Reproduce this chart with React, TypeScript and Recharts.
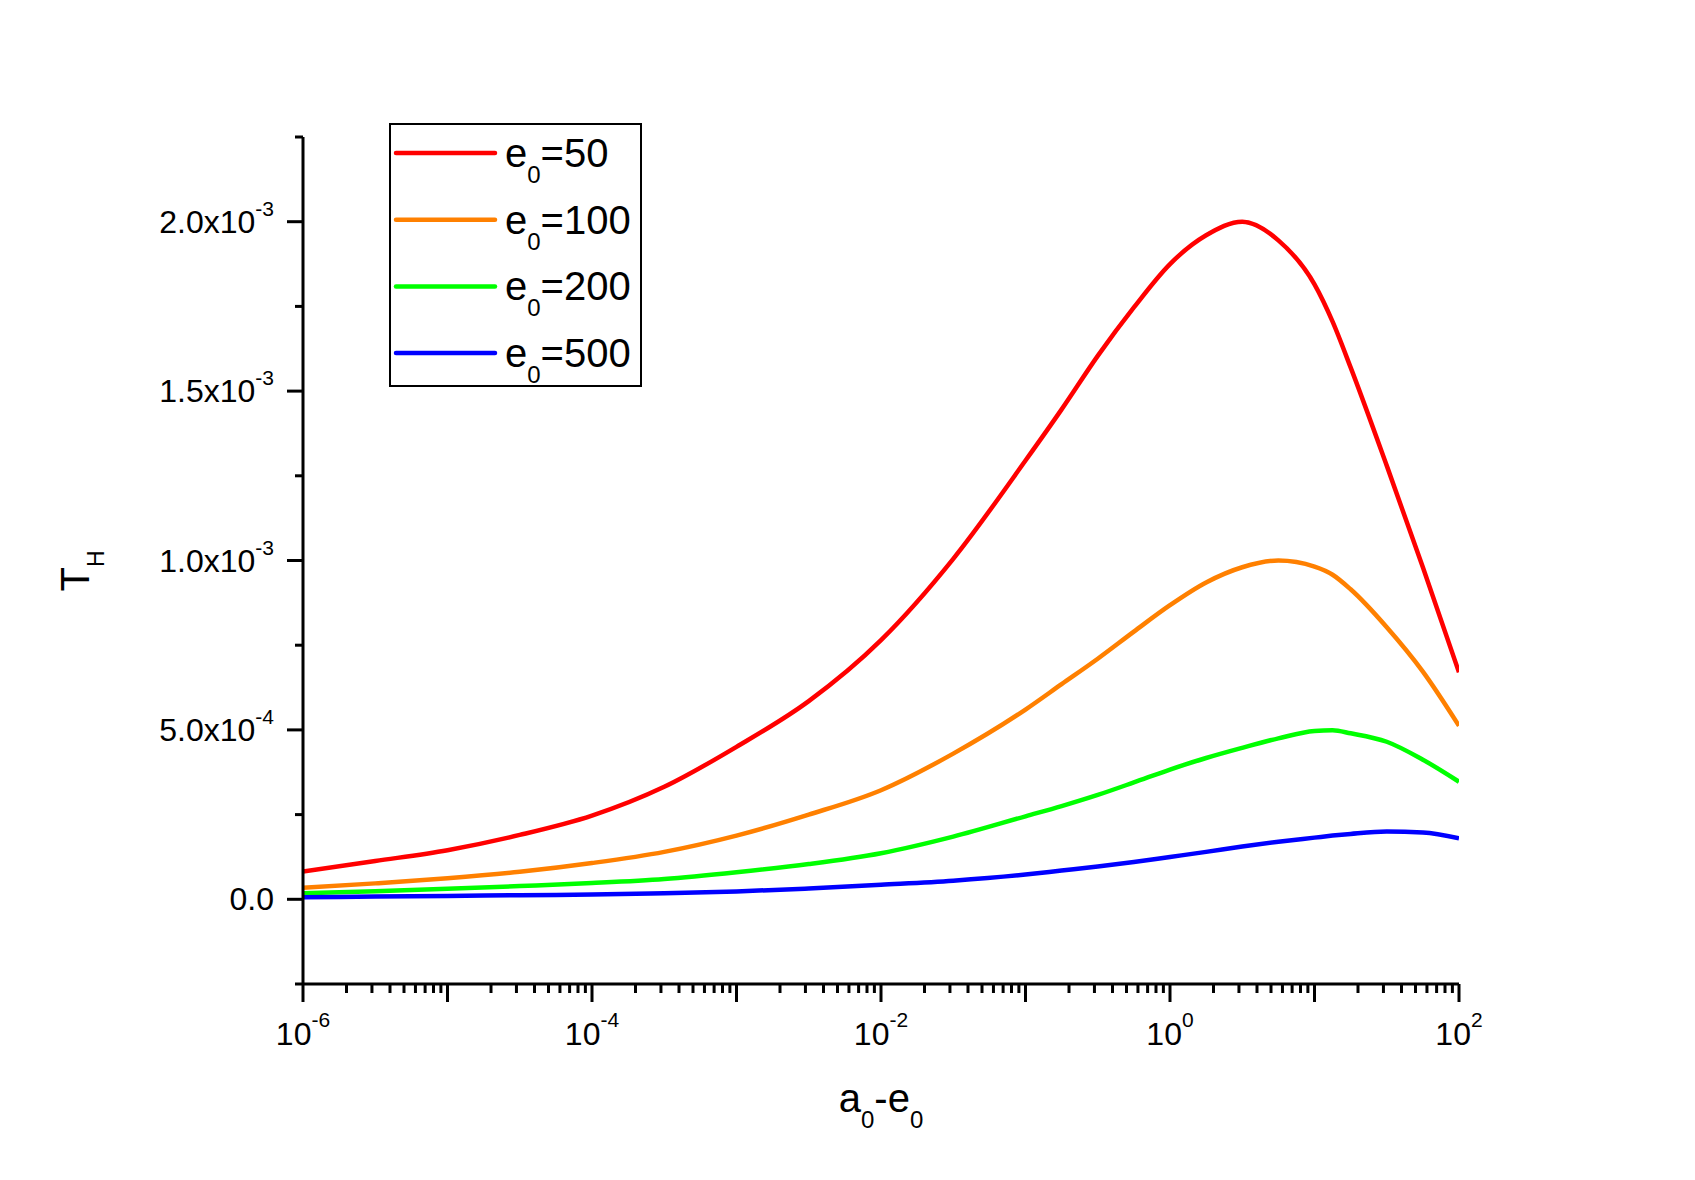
import React from 'react';
import { LineChart, Line, XAxis, YAxis, Legend, Label } from 'recharts';

// x positions (a0-e0), half and quarter decades
const xValues = [
  1e-6, 3.162e-6, 1e-5, 3.162e-5, 1e-4, 3.162e-4, 1e-3, 3.162e-3, 1e-2, 3.162e-2,
  0.1, 0.1778, 0.3162, 0.5623, 1, 1.778, 3.162, 5.623, 10, 13.34, 17.78, 31.62, 56.23, 100,
];

const e50 = [
  8.2e-5, 1.13e-4, 1.45e-4, 1.9e-4, 2.47e-4, 3.32e-4, 4.5e-4, 5.85e-4, 7.65e-4, 1.005e-3,
  1.295e-3, 1.446e-3, 1.604e-3, 1.747e-3, 1.875e-3, 1.96e-3, 2.0e-3, 1.945e-3, 1.815e-3, 1.705e-3,
  1.57e-3, 1.28e-3, 9.8e-4, 6.7e-4,
];
const e100 = [
  3.4e-5, 4.7e-5, 6.2e-5, 8.1e-5, 1.07e-4, 1.4e-4, 1.88e-4, 2.5e-4, 3.22e-4, 4.3e-4,
  5.6e-4, 6.35e-4, 7.1e-4, 7.9e-4, 8.68e-4, 9.35e-4, 9.8e-4, 1.0e-3, 9.82e-4, 9.58e-4,
  9.15e-4, 8.03e-4, 6.72e-4, 5.12e-4,
];
const e200 = [
  1.8e-5, 2.4e-5, 3.1e-5, 3.9e-5, 4.8e-5, 6.0e-5, 8.0e-5, 1.04e-4, 1.36e-4, 1.85e-4,
  2.45e-4, 2.75e-4, 3.08e-4, 3.45e-4, 3.83e-4, 4.17e-4, 4.47e-4, 4.75e-4, 4.97e-4, 4.99e-4,
  4.9e-4, 4.65e-4, 4.12e-4, 3.47e-4,
];
const e500 = [
  6e-6, 8e-6, 1.0e-5, 1.2e-5, 1.4e-5, 1.8e-5, 2.3e-5, 3.2e-5, 4.3e-5, 5.5e-5,
  7.3e-5, 8.5e-5, 9.7e-5, 1.1e-4, 1.25e-4, 1.4e-4, 1.56e-4, 1.7e-4, 1.82e-4, 1.88e-4,
  1.93e-4, 2.0e-4, 1.97e-4, 1.8e-4,
];

const seriesKeys = ['e50', 'e100', 'e200', 'e500'];
const legendValues = ['50', '100', '200', '500'];
const colors = ['#FF0000', '#FF8000', '#00FF00', '#0000FF'];

const yTicks = [
  -0.00025, 0, 0.00025, 0.0005, 0.00075, 0.001, 0.00125, 0.0015, 0.00175, 0.002, 0.00225,
];
const yMajorTicks = [0, 0.0005, 0.001, 0.0015, 0.002];
const yMantissas = ['0.0', '5.0', '1.0', '1.5', '2.0'];
const yExponents = ['', '-4', '-3', '-3', '-3'];

const xMajorTicks = [1e-6, 1e-4, 1e-2, 1, 100];
const xTickExponents = ['-6', '-4', '-2', '0', '2'];

// minor ticks 1..9 in every decade
const xTicks: number[] = [];
for (let e = -6; e < 2; e++) {
  for (let m = 1; m < 10; m++) xTicks.push(m * Math.pow(10, e));
}
xTicks.push(100);

const data = xValues.map((x, i) => ({
  x,
  e50: e50[i],
  e100: e100[i],
  e200: e200[i],
  e500: e500[i],
}));

const FONT = '"Liberation Sans", Arial, sans-serif';

const YTick = (props: any) => {
  const { x, y, payload } = props;
  const idx = yMajorTicks.findIndex((v) => Math.abs(v - payload.value) < 1e-9);
  const major = idx >= 0;
  return (
    <g>
      <line x1={x} x2={x - (major ? 16 : 8)} y1={y} y2={y} stroke="#000" strokeWidth={3} />
      {major && (
        <text x={x - 29} y={y + 11} textAnchor="end" fontSize={32} fontFamily={FONT} fill="#000">
          {yMantissas[idx]}
          {yExponents[idx] ? 'x10' : ''}
          {yExponents[idx] ? (
            <tspan dy={-17} fontSize={21}>
              {yExponents[idx]}
            </tspan>
          ) : null}
        </text>
      )}
    </g>
  );
};

const XTick = (props: any) => {
  const { x, y, payload } = props;
  const v = payload.value;
  const lg = Math.log10(v);
  const decade = Math.abs(lg - Math.round(lg)) < 1e-6;
  const idx = xMajorTicks.findIndex((t) => Math.abs(t - v) / t < 1e-6);
  return (
    <g>
      <line x1={x} x2={x} y1={y} y2={y + (decade ? 18 : 9)} stroke="#000" strokeWidth={3} />
      {idx >= 0 && (
        <text x={x} y={y + 61} textAnchor="middle" fontSize={32} fontFamily={FONT} fill="#000">
          10
          <tspan dy={-18} fontSize={21}>
            {xTickExponents[idx]}
          </tspan>
        </text>
      )}
    </g>
  );
};

const renderLegend = () => (
  <svg width={253} height={264} style={{ display: 'block' }}>
    <rect x={1} y={1} width={251} height={262} fill="#fff" stroke="#000" strokeWidth={2} />
    {legendValues.map((v, i) => {
      const ly = 30 + i * 66.7;
      return (
        <g key={v}>
          <line x1={7} x2={106} y1={ly} y2={ly} stroke={colors[i]} strokeWidth={4.5} strokeLinecap="round" />
          <text x={116} y={ly + 14} fontSize={40} fontFamily={FONT} fill="#000">
            e
            <tspan dy={16} fontSize={24}>
              0
            </tspan>
            <tspan dy={-16}>={v}</tspan>
          </text>
        </g>
      );
    })}
  </svg>
);

const XTitle = (props: any) => {
  const { viewBox } = props;
  const cx = viewBox.x + viewBox.width / 2;
  const by = viewBox.y + 128;
  return (
    <text x={cx} y={by} textAnchor="middle" fontSize={40} fontFamily={FONT} fill="#000">
      a
      <tspan dy={16} fontSize={24}>
        0
      </tspan>
      <tspan dy={-16}>-e</tspan>
      <tspan dy={16} fontSize={24}>
        0
      </tspan>
    </text>
  );
};

const YTitle = () => {
  const bx = 89;
  const cy = 571;
  return (
    <text
      x={bx}
      y={cy}
      transform={`rotate(-90, ${bx}, ${cy})`}
      textAnchor="middle"
      fontSize={40}
      fontFamily={FONT}
      fill="#000"
    >
      T
      <tspan dy={15} fontSize={23}>
        H
      </tspan>
    </text>
  );
};

export default function App() {
  return (
    <div style={{ position: 'absolute', left: 0, top: 0, background: '#fff' }}>
      <LineChart
        width={1695}
        height={1180}
        data={data}
        margin={{ top: 137, right: 236, left: 203, bottom: 136 }}
      >
        <XAxis
          dataKey="x"
          type="number"
          scale="log"
          domain={[1e-6, 100]}
          ticks={xTicks}
          interval={0}
          allowDataOverflow
          height={60}
          tickSize={0}
          tickMargin={0}
          tickLine={false}
          axisLine={{ stroke: '#000', strokeWidth: 3 }}
          tick={<XTick />}
        >
          <Label content={<XTitle />} />
        </XAxis>
        <YAxis
          type="number"
          domain={[-0.00025, 0.00225]}
          ticks={yTicks}
          interval={0}
          allowDataOverflow
          width={100}
          tickSize={0}
          tickMargin={0}
          tickLine={false}
          axisLine={{ stroke: '#000', strokeWidth: 3 }}
          tick={<YTick />}
        >
          <Label content={<YTitle />} />
        </YAxis>
        <Legend
          layout="vertical"
          align="center"
          verticalAlign="middle"
          content={renderLegend}
          wrapperStyle={{ left: 389, top: 123, width: 253, height: 264 }}
        />
        {seriesKeys.map((k, i) => (
          <Line
            key={k}
            type="monotone"
            dataKey={k}
            stroke={colors[i]}
            strokeWidth={4.5}
            dot={false}
            activeDot={false}
            isAnimationActive={false}
          />
        ))}
      </LineChart>
    </div>
  );
}
